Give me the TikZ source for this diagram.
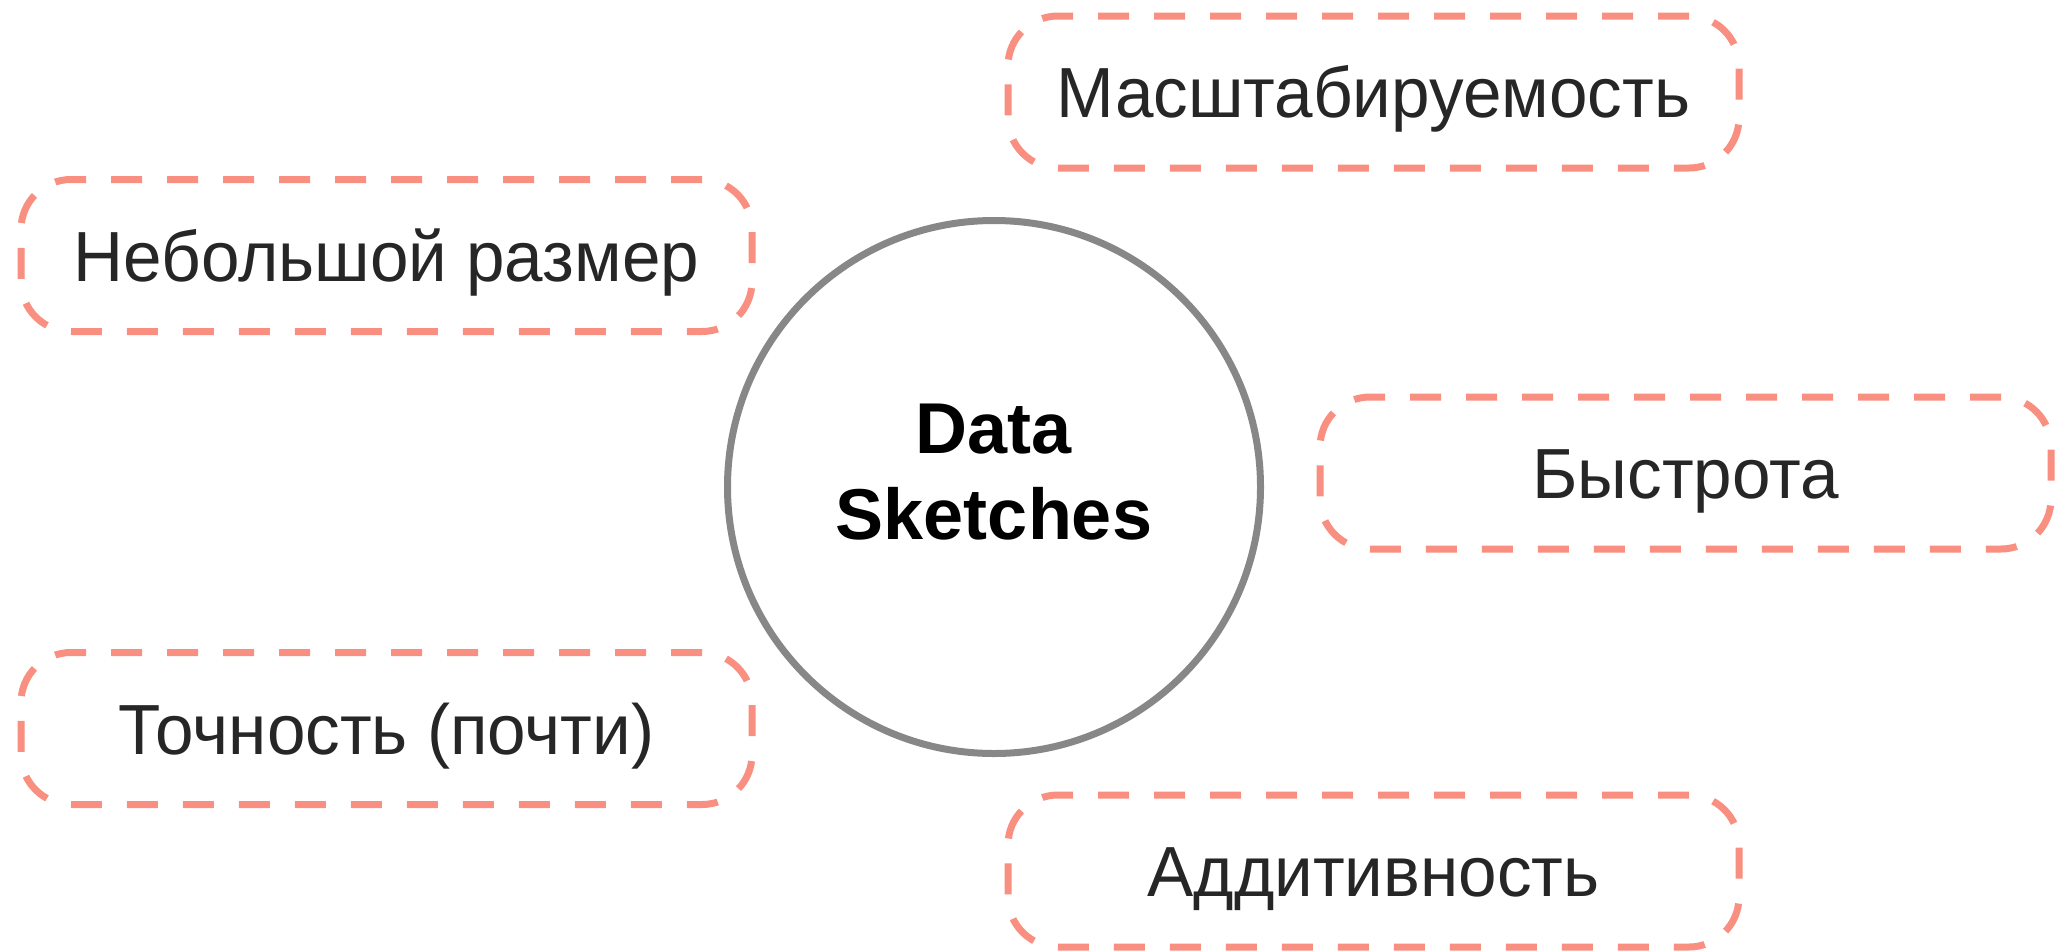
\documentclass[tikz,border=0pt]{standalone}
\usepackage{fontspec}
\setmainfont{Liberation Sans}
\newfontfamily\featurefont[FakeStretch=0.975]{Liberation Sans}
\definecolor{salmon}{HTML}{F98F80}
\definecolor{ringgray}{HTML}{878787}
\definecolor{inkdark}{HTML}{262626}
\tikzset{
  feature/.style={draw=salmon, line width=7pt, dash pattern=on 31pt off 25pt,
    rounded corners=50pt, minimum width=731pt, minimum height=152pt,
    inner sep=0pt, text height=51pt, text depth=0pt, text=inkdark,
    font=\featurefont\fontsize{71}{85}\selectfont},
  core/.style={circle, draw=ringgray, line width=7pt, minimum size=533pt,
    inner sep=0pt},
  corelabel/.style={align=center, text=black, inner sep=0pt,
    font=\fontsize{72}{86}\selectfont\bfseries}
}
\begin{document}
\begin{tikzpicture}[x=1pt,y=-1pt]
  \useasboundingbox (0,0) rectangle (2059,951);
  % central circle and its two-line title
  \node[core] (sketch) at (994,487) {};
  \node[corelabel, yshift=15pt] (title) at (sketch.center) {Data\\Sketches};
  % dashed property boxes around it
  \node[feature] (scale) at (1373.5,92)  {Масштабируемость};
  \node[feature] (size)  at (386.5,255.5) {Небольшой размер};
  \node[feature] (speed) at (1685.5,473) {Быстрота};
  \node[feature] (acc)   at (386.5,728.5) {Точность (почти)};
  \node[feature] (add)   at (1373.5,871) {Аддитивность};
\end{tikzpicture}
\end{document}
